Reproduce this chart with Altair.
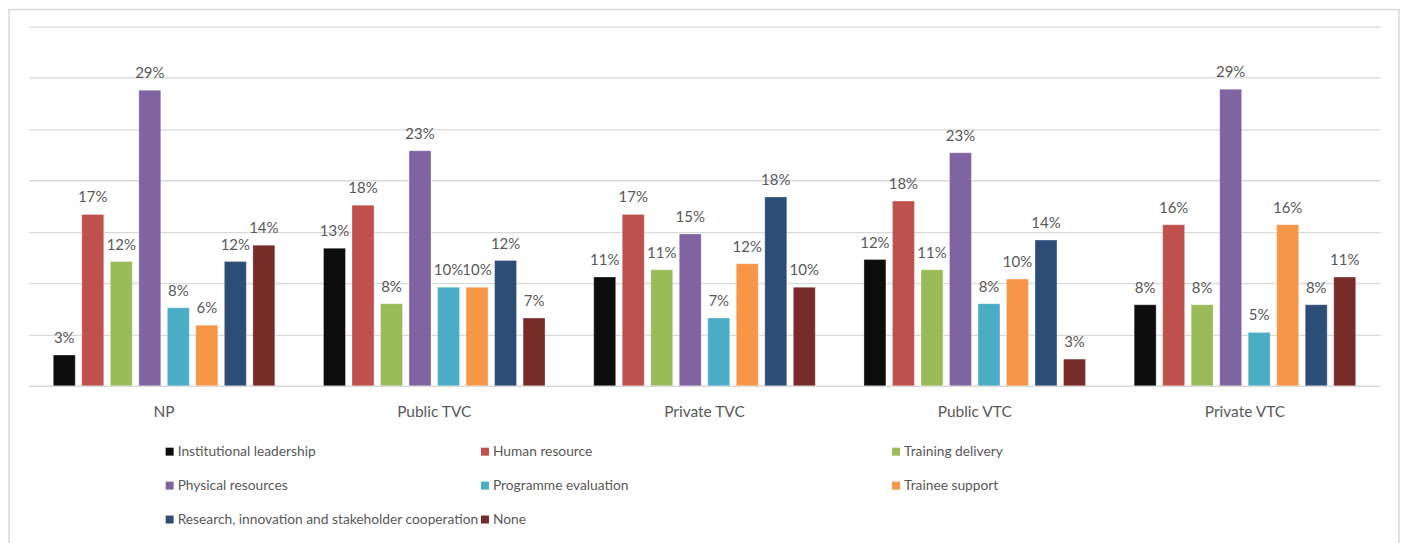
import altair as alt
import pandas as pd

groups = ["NP", "Public TVC", "Private TVC", "Public VTC", "Private VTC"]
series = [
    "Institutional leadership",
    "Human resource",
    "Training delivery",
    "Physical resources",
    "Programme evaluation",
    "Trainee support",
    "Research, innovation and stakeholder cooperation",
    "None",
]
colors = ["#0d0d0d", "#c0504d", "#9bbb59", "#8064a2", "#4bacc6", "#f79646", "#2c4d75", "#772c2a"]

# percent values per group, in series order
np_vals = [3.0, 16.7, 12.1, 28.8, 7.6, 5.9, 12.1, 13.7]
public_tvc = [13.4, 17.6, 8.0, 22.9, 9.6, 9.6, 12.2, 6.6]
private_tvc = [10.6, 16.7, 11.3, 14.8, 6.6, 11.9, 18.4, 9.6]
public_vtc = [12.3, 18.0, 11.3, 22.7, 8.0, 10.4, 14.2, 2.6]
private_vtc = [7.9, 15.7, 7.9, 28.9, 5.2, 15.7, 7.9, 10.6]
all_vals = [np_vals, public_tvc, private_tvc, public_vtc, private_vtc]

legend_cols = [0, 1, 2, 0, 1, 2, 0, 1]
legend_rows = [0, 0, 0, 1, 1, 1, 2, 2]

rows = []
for g, vals in zip(groups, all_vals):
    for s, v in zip(series, vals):
        rows.append({"group": g, "series": s, "value": v})
df = pd.DataFrame(rows)

legend_df = pd.DataFrame({"series": series, "col": legend_cols, "row": legend_rows})
frame_df = pd.DataFrame({"a": [0]})

FONT = "Lato"
TXT = "#595959"
GRID = "#d9d9d9"

color_scale = alt.Scale(domain=series, range=colors)

x_enc = alt.X(
    "group:N",
    sort=groups,
    scale=alt.Scale(paddingInner=0, paddingOuter=0),
    axis=alt.Axis(
        title=None, labelAngle=0, ticks=False, domainColor=GRID, domainWidth=1,
        labelFont=FONT, labelFontSize=15.5, labelColor=TXT, labelPadding=19,
    ),
)
xo_enc = alt.XOffset("series:N", sort=series, scale=alt.Scale(paddingInner=0.23, paddingOuter=0.854))
y_enc = alt.Y(
    "value:Q",
    scale=alt.Scale(domain=[0, 35], nice=False),
    axis=alt.Axis(
        values=[0, 5, 10, 15, 20, 25, 30, 35], labels=False, ticks=False, domain=False,
        title=None, gridColor=GRID, gridWidth=1.3,
    ),
)

base = alt.Chart(df)
bars = base.mark_bar(stroke="white", strokeWidth=0.6, strokeOpacity=0.5).encode(
    x=x_enc, xOffset=xo_enc, y=y_enc,
    color=alt.Color("series:N", scale=color_scale, legend=None),
)
labels = base.transform_calculate(
    label="format(datum.value, '.0f') + '%'"
).mark_text(font=FONT, fontSize=15, color=TXT, baseline="alphabetic", dy=-12).encode(
    x=x_enc, xOffset=xo_enc, y=y_enc, text="label:N",
)
main = alt.layer(bars, labels)

leg_x = alt.X("col:Q", scale=alt.Scale(domain=[0, 1, 2], range=[141, 457, 869]), axis=None)
leg_y = alt.Y("row:Q", scale=alt.Scale(domain=[0, 2], range=[426, 494]), axis=None)
leg_base = alt.Chart(legend_df)
leg_sym = leg_base.mark_square(size=64, opacity=1).encode(
    x=leg_x, y=leg_y, color=alt.Color("series:N", scale=color_scale, legend=None)
)
leg_txt = leg_base.mark_text(font=FONT, fontSize=13.8, color=TXT, align="left", baseline="middle", dx=8).encode(
    x=leg_x, y=leg_y, text="series:N"
)
legend = alt.layer(leg_sym, leg_txt)

frame = alt.Chart(frame_df).mark_rect(fillOpacity=0, stroke=GRID, strokeWidth=1.5).encode(
    x=alt.value(-20), x2=alt.value(1373), y=alt.value(-17), y2=alt.value(560)
)

chart = (
    alt.layer(frame, main, legend)
    .resolve_scale(x="independent", y="independent")
    .properties(width=1354, height=360, padding=0, background="white")
    .configure_view(strokeWidth=0)
)

chart.save("out.html", embed_options={"renderer": "svg", "actions": False})
